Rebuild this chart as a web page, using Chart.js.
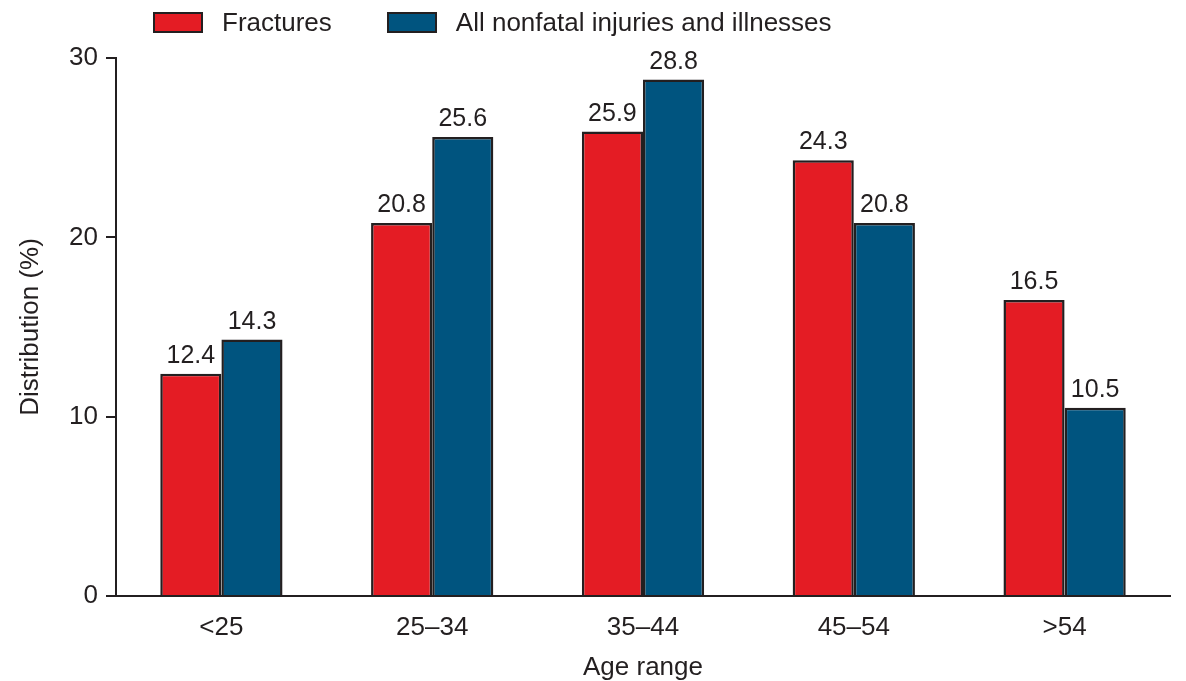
<!DOCTYPE html>
<html>
<head>
<meta charset="utf-8">
<script src="https://cdn.jsdelivr.net/npm/chart.js@4.4.1/dist/chart.umd.min.js"></script>
<style>
  body { margin: 0; background: #fff; }
  #wrap { position: relative; width: 1186px; height: 681px; }
  #legend { position: absolute; top: 7px; left: 153px; display: flex; align-items: center;
    font: 26px "Liberation Sans", Arial, sans-serif; color: #231f20; line-height: 30px; }
  #legend .item { display: flex; align-items: center; margin-right: 55px; }
  #legend .box { width: 50px; height: 21px; box-sizing: border-box; border: 2px solid #231f20; margin-right: 19px; }
</style>
</head>
<body>
<div id="wrap">
  <canvas id="chart"></canvas>
  <div id="legend"></div>
</div>
<script>
var ageRanges = ['<25', '25–34', '35–44', '45–54', '>54']
var fractures = [12.4, 20.8, 25.9, 24.3, 16.5]
var allInjuries = [14.3, 25.6, 28.8, 20.8, 10.5]
var yTicks = [0, 10, 20, 30]

var ink = '#231f20'
var font = '"Liberation Sans", Arial, sans-serif'

// value above each bar
var valueLabels = {
  id: 'valueLabels',
  afterDatasetsDraw(chart) {
    var ctx = chart.ctx
    ctx.save()
    ctx.font = '25px ' + font
    ctx.fillStyle = ink
    ctx.textAlign = 'center'
    ctx.textBaseline = 'alphabetic'
    chart.data.datasets.forEach((ds, i) => {
      chart.getDatasetMeta(i).data.forEach((bar, j) => {
        ctx.fillText(ds.data[j].toFixed(1), bar.x, bar.y - 11)
      })
    })
    ctx.restore()
  },
}

var ctx = document.getElementById('chart').getContext('2d')
var myChart = new Chart(ctx, {
  type: 'bar',
  data: {
    labels: ageRanges,
    datasets: [
      {
        label: 'Fractures',
        data: fractures,
        backgroundColor: '#e41c24',
        borderColor: ink,
        borderWidth: 2.5,
      },
      {
        label: 'All nonfatal injuries and illnesses',
        data: allInjuries,
        backgroundColor: '#00547f',
        borderColor: ink,
        borderWidth: 2.5,
      },
    ],
  },
  options: {
    responsive: true,
    maintainAspectRatio: false,
    animation: false,
    categoryPercentage: 0.58,
    barPercentage: 1,
    layout: { padding: { top: 58, right: 16, bottom: 0, left: 0 } },
    plugins: {
      legend: { display: false },
      tooltip: { enabled: false },
    },
    scales: {
      x: {
        grid: { display: false, drawTicks: false },
        border: { color: ink, width: 2 },
        ticks: { color: ink, font: { family: font, size: 26 }, padding: 16 },
        title: { display: true, text: 'Age range', color: ink, font: { family: font, size: 26 }, padding: { top: 0, bottom: -2 } },
        afterFit: (scale) => { scale.height = 85 },
      },
      y: {
        min: 0,
        max: 30,
        afterBuildTicks: (scale) => { scale.ticks = yTicks.map((v) => ({ value: v })) },
        grid: { drawOnChartArea: false, drawTicks: true, tickLength: 10, color: ink, lineWidth: 2 },
        border: { color: ink, width: 2 },
        ticks: { color: ink, font: { family: font, size: 26 }, padding: 8 },
        title: { display: true, text: 'Distribution (%)', color: ink, font: { family: font, size: 26 }, padding: { top: 15, bottom: 0 } },
        afterFit: (scale) => { scale.width = 116 },
      },
    },
  },
  plugins: [valueLabels],
})

// html legend from the datasets
var legend = document.getElementById('legend')
myChart.data.datasets.forEach((ds) => {
  var item = document.createElement('div')
  item.className = 'item'
  var box = document.createElement('span')
  box.className = 'box'
  box.style.background = ds.backgroundColor
  var txt = document.createElement('span')
  txt.textContent = ds.label
  item.appendChild(box)
  item.appendChild(txt)
  legend.appendChild(item)
})
</script>
</body>
</html>
